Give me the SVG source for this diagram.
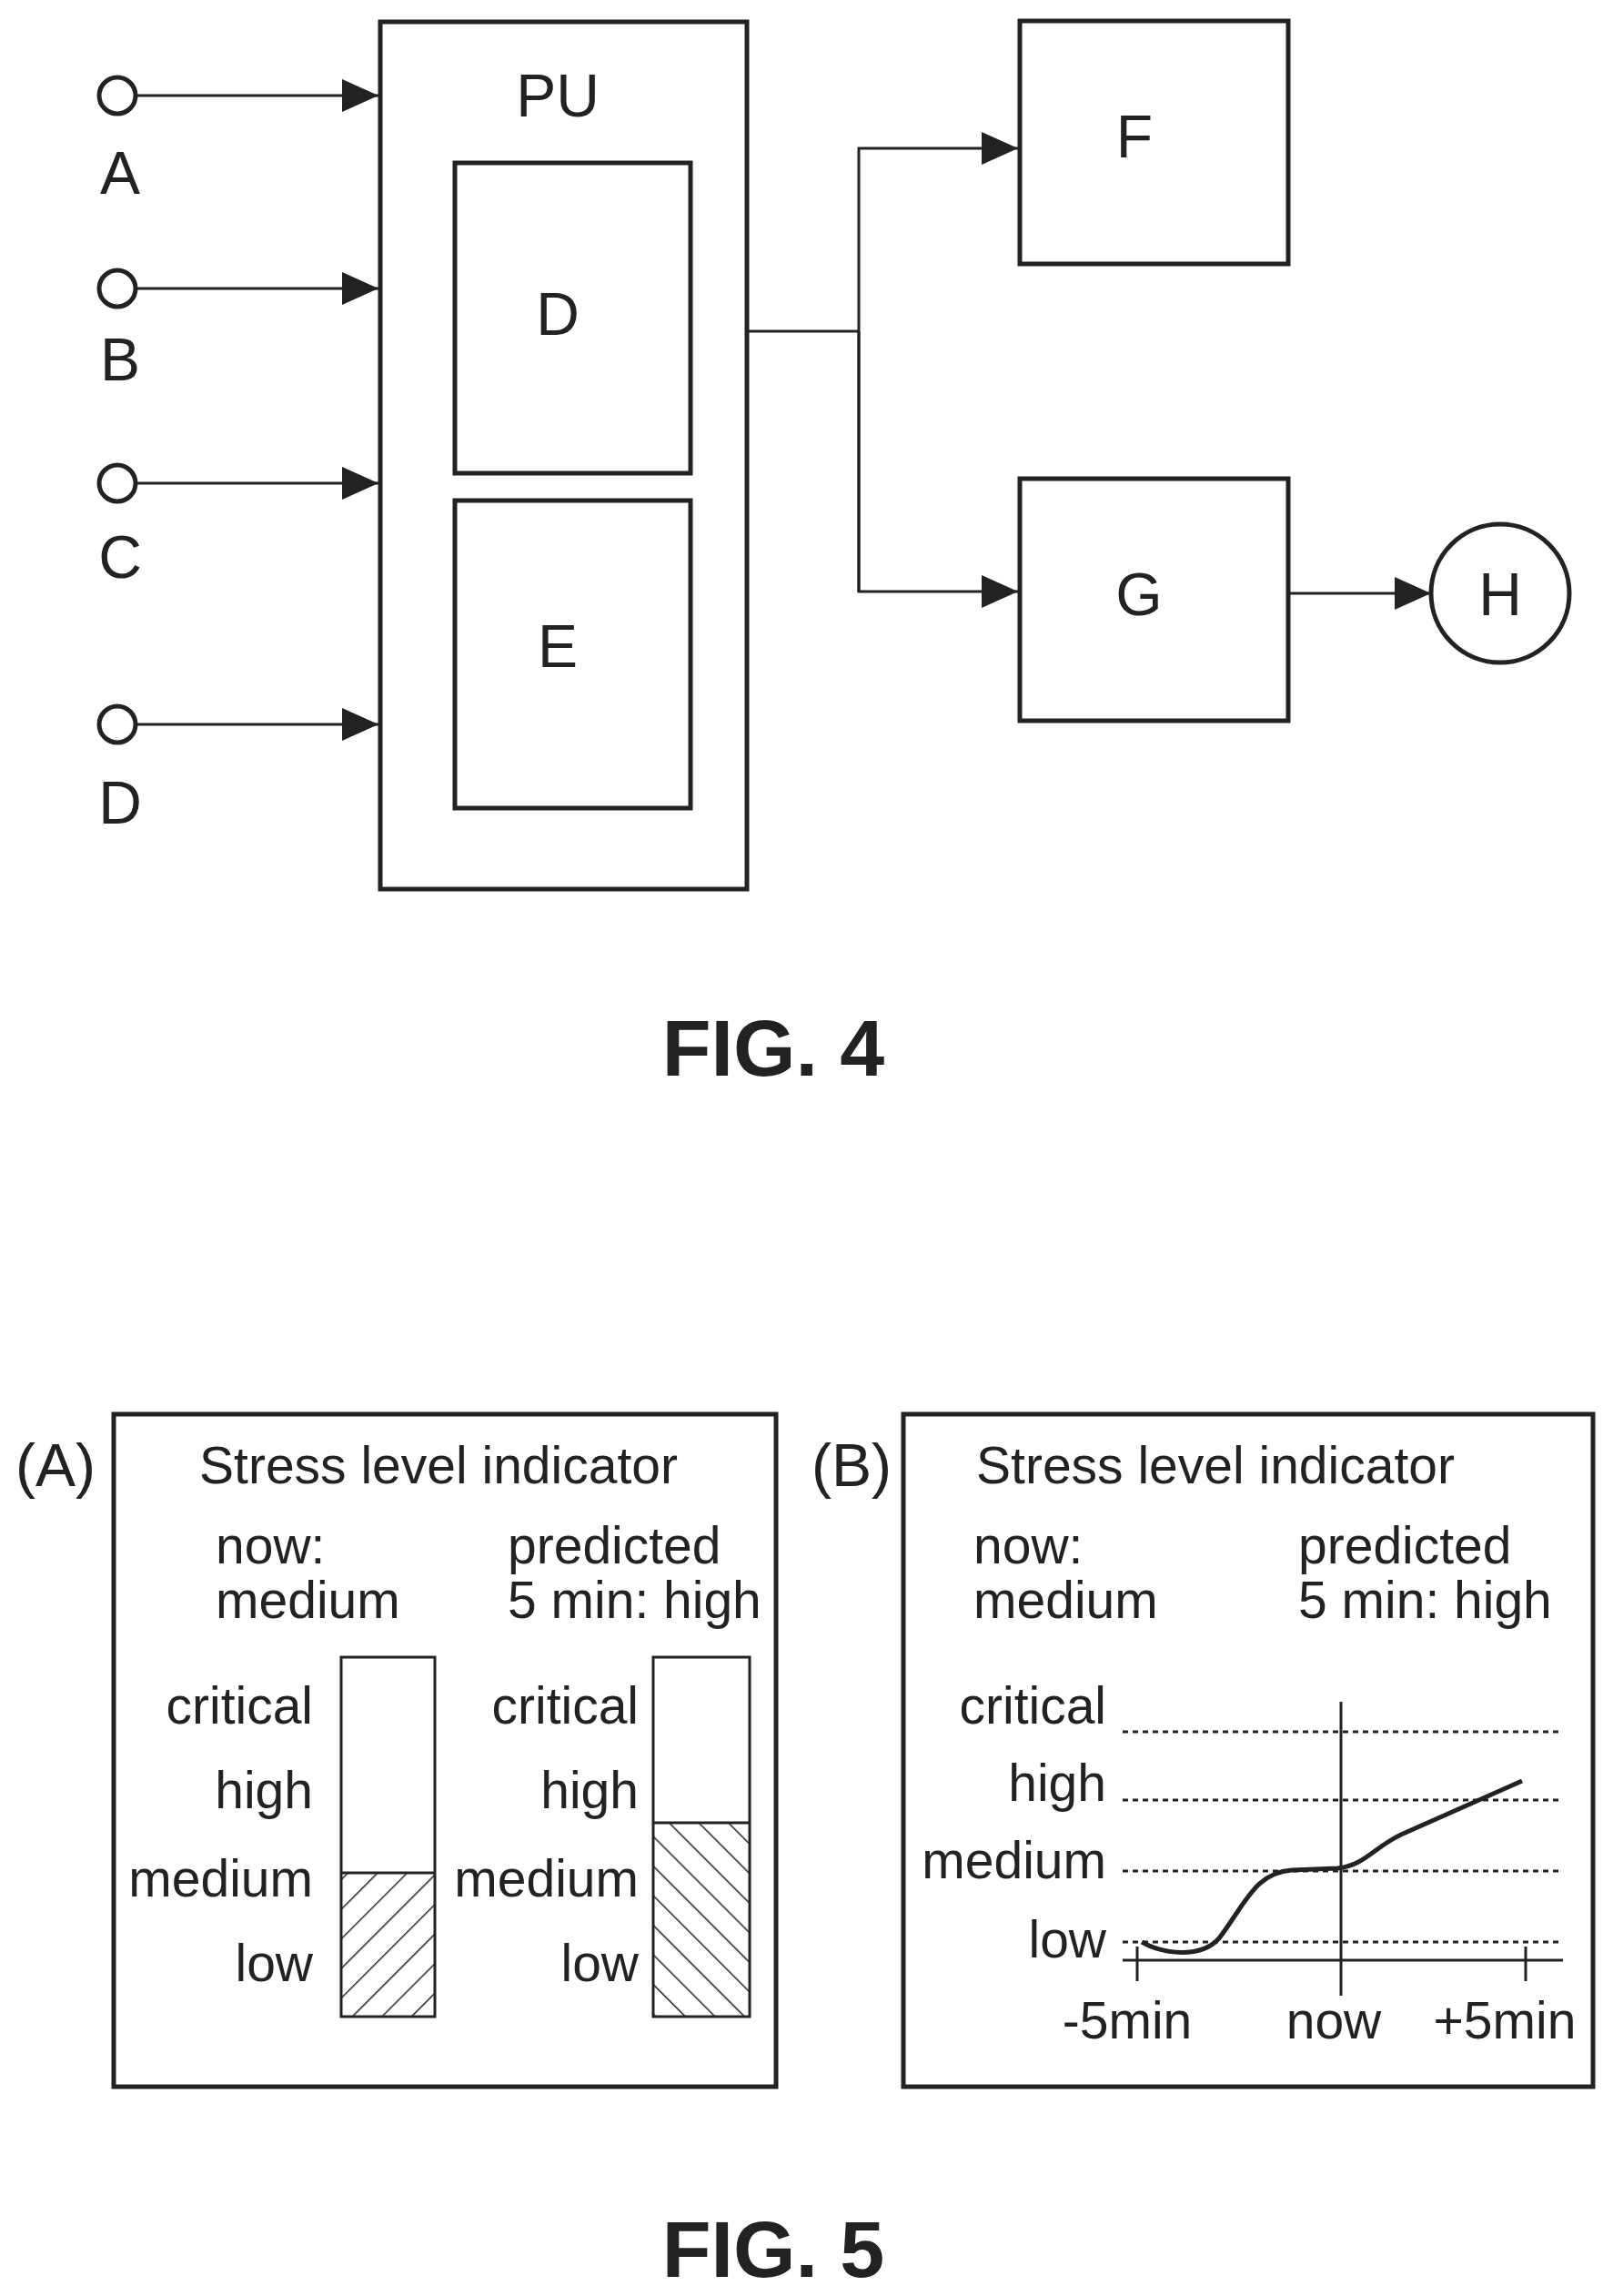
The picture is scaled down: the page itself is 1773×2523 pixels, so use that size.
<svg xmlns="http://www.w3.org/2000/svg" width="1773" height="2523" viewBox="0 0 1773 2523">
<style>
.b{fill:none;stroke:#222;stroke-width:5}
.l{fill:none;stroke:#222;stroke-width:3}
.t{font-family:"Liberation Sans",Arial,sans-serif;font-size:66px;fill:#222}
.s{font-family:"Liberation Sans",Arial,sans-serif;font-size:57px;fill:#222}
.f{font-family:"Liberation Sans",Arial,sans-serif;font-size:88px;font-weight:bold;fill:#222}
.d{stroke:#222;stroke-width:3;stroke-dasharray:6 5}
</style>
<defs>
<marker id="a" viewBox="0 0 40 40" refX="40" refY="20" markerWidth="40" markerHeight="40" markerUnits="userSpaceOnUse" orient="auto"><path d="M0,2L40,20L0,38z" fill="#222"/></marker>
<pattern id="h1" width="23" height="23" patternUnits="userSpaceOnUse" patternTransform="rotate(45)"><line x1="0" y1="0" x2="0" y2="23" stroke="#222" stroke-width="3"/></pattern>
<pattern id="h2" width="23" height="23" patternUnits="userSpaceOnUse" patternTransform="rotate(-45)"><line x1="0" y1="0" x2="0" y2="23" stroke="#222" stroke-width="3"/></pattern>
</defs>
<g id="PU"><rect class="b" x="418" y="24" width="403" height="953"/><text class="t" x="613" y="128" text-anchor="middle">PU</text></g>
<g id="Dbox"><rect class="b" x="500" y="179" width="259" height="341"/><text class="t" x="613" y="368" text-anchor="middle">D</text></g>
<g id="Ebox"><rect class="b" x="500" y="550" width="259" height="338"/><text class="t" x="613" y="733" text-anchor="middle">E</text></g>
<g id="F"><rect class="b" x="1121" y="23" width="295" height="267"/><text class="t" x="1247" y="173" text-anchor="middle">F</text></g>
<g id="G"><rect class="b" x="1121" y="526" width="295" height="266"/><text class="t" x="1252" y="676" text-anchor="middle">G</text></g>
<g id="H"><circle class="b" cx="1649" cy="652" r="76"/><text class="t" x="1649" y="676" text-anchor="middle">H</text></g>
<g id="inA"><circle class="b" cx="129" cy="105" r="20"/><text class="t" x="132" y="213" text-anchor="middle">A</text></g>
<g id="inB"><circle class="b" cx="129" cy="317" r="20"/><text class="t" x="132" y="418" text-anchor="middle">B</text></g>
<g id="inC"><circle class="b" cx="129" cy="531" r="20"/><text class="t" x="132" y="635" text-anchor="middle">C</text></g>
<g id="inD"><circle class="b" cx="129" cy="796" r="20"/><text class="t" x="132" y="905" text-anchor="middle">D</text></g>
<g id="connectors">
<line class="l" x1="149" y1="105" x2="416" y2="105" marker-end="url(#a)"/>
<line class="l" x1="149" y1="317" x2="416" y2="317" marker-end="url(#a)"/>
<line class="l" x1="149" y1="531" x2="416" y2="531" marker-end="url(#a)"/>
<line class="l" x1="149" y1="796" x2="416" y2="796" marker-end="url(#a)"/>
<polyline class="l" points="821,364 944,364"/>
<polyline class="l" points="944,650 944,163 1119,163" marker-end="url(#a)"/>
<polyline class="l" points="944,364 944,650 1119,650" marker-end="url(#a)"/>
<line class="l" x1="1416" y1="652" x2="1573" y2="652" marker-end="url(#a)"/>
</g>
<text class="f" x="850" y="1182" text-anchor="middle">FIG. 4</text>

<g id="panelA">
<rect class="b" x="125" y="1554" width="728" height="739"/>
<text class="t" x="61" y="1633" text-anchor="middle">(A)</text>
<text class="s" x="482" y="1630" text-anchor="middle">Stress level indicator</text>
<text class="s" x="237" y="1718">now:</text><text class="s" x="237" y="1778">medium</text>
<text class="s" x="558" y="1718">predicted</text><text class="s" x="558" y="1778">5 min: high</text>
<rect x="375" y="2058" width="103" height="158" fill="url(#h1)"/>
<rect class="l" x="375" y="1821" width="103" height="395"/>
<line class="l" x1="375" y1="2058" x2="478" y2="2058"/>
<rect x="718" y="2003" width="106" height="213" fill="url(#h2)"/>
<rect class="l" x="718" y="1821" width="106" height="395"/>
<line class="l" x1="718" y1="2003" x2="824" y2="2003"/>
<g class="s" text-anchor="end">
<text x="344" y="1894">critical</text><text x="344" y="1987">high</text><text x="344" y="2084">medium</text><text x="344" y="2177">low</text>
<text x="702" y="1894">critical</text><text x="702" y="1987">high</text><text x="702" y="2084">medium</text><text x="702" y="2177">low</text>
</g>
</g>
<g id="panelB">
<rect class="b" x="993" y="1554" width="758" height="739"/>
<text class="t" x="936" y="1633" text-anchor="middle">(B)</text>
<text class="s" x="1336" y="1630" text-anchor="middle">Stress level indicator</text>
<text class="s" x="1070" y="1718">now:</text><text class="s" x="1070" y="1778">medium</text>
<text class="s" x="1427" y="1718">predicted</text><text class="s" x="1427" y="1778">5 min: high</text>
<g class="s" text-anchor="end">
<text x="1216" y="1894">critical</text><text x="1216" y="1979">high</text><text x="1216" y="2064">medium</text><text x="1216" y="2151">low</text>
</g>
<line class="d" x1="1234" y1="1903" x2="1714" y2="1903"/>
<line class="d" x1="1234" y1="1978" x2="1714" y2="1978"/>
<line class="d" x1="1234" y1="2056" x2="1714" y2="2056"/>
<line class="d" x1="1234" y1="2134" x2="1714" y2="2134"/>
<line class="l" x1="1474" y1="1870" x2="1474" y2="2193"/>
<line class="l" x1="1234" y1="2154" x2="1718" y2="2154"/>
<line class="l" x1="1250" y1="2139" x2="1250" y2="2177"/>
<line class="l" x1="1677" y1="2139" x2="1677" y2="2177"/>
<path d="M1255,2134 C1280,2148 1320,2152 1340,2130 C1370,2090 1380,2058 1420,2055 L1470,2053 C1500,2050 1510,2030 1540,2016 L1673,1957" fill="none" stroke="#222" stroke-width="5"/>
<g class="s" text-anchor="middle"><text x="1239" y="2240">-5min</text><text x="1466" y="2240">now</text><text x="1654" y="2240">+5min</text></g>
</g>
<text class="f" x="850" y="2502" text-anchor="middle">FIG. 5</text>
</svg>
